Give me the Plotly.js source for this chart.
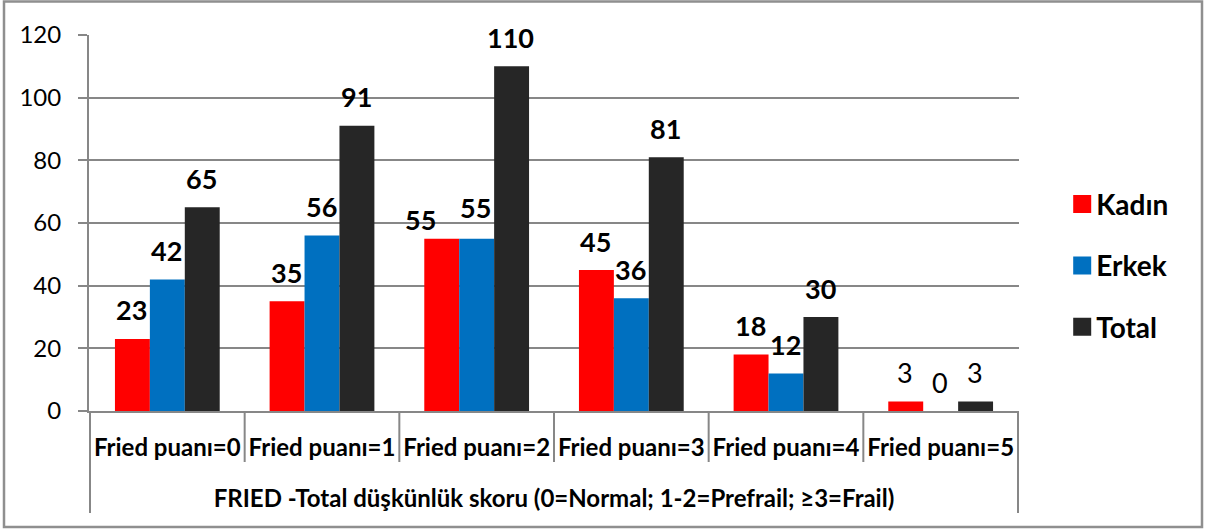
<!DOCTYPE html>
<html>
<head>
<meta charset="utf-8">
<script src="https://cdn.plot.ly/plotly-3.0.1.min.js"></script>
<style>
  html, body { margin: 0; padding: 0; background: #fff; }
  #chart { width: 1206px; height: 529px; }
</style>
</head>
<body>
<div id="chart"></div>
<script>
const categories = ['Fried puanı=0', 'Fried puanı=1', 'Fried puanı=2', 'Fried puanı=3', 'Fried puanı=4', 'Fried puanı=5'];
const seriesNames = ['Kadın', 'Erkek', 'Total'];
const kadin = [23, 35, 55, 45, 18, 3];
const erkek = [42, 56, 55, 36, 12, 0];
const total = [65, 91, 110, 81, 30, 3];
const yTicks = [0, 20, 40, 60, 80, 100, 120];
const axisTitle = 'FRIED -Total düşkünlük skoru (0=Normal; 1-2=Prefrail; ≥3=Frail)';

const series = [kadin, erkek, total];
const colors = ['#FF0000', '#0070C0', '#262626'];
const FONT = 'Lato, "Open Sans", sans-serif';
const GRID = '#878787';

// per-label manual nudges (Excel-style label placement)
const nudge = { '0-2': { dx: -20, dy: -10 }, '1-2': { dx: 0, dy: 2 } };

const traces = series.map((vals, i) => ({
  type: 'bar',
  name: seriesNames[i],
  x: categories,
  y: vals,
  legendgroup: 'g' + i,
  marker: { color: colors[i], line: { width: 0 } },
  hoverinfo: 'x+y+name'
}));

const annotations = [];
series.forEach((vals, i) => {
  vals.forEach((v, j) => {
    const n = nudge[i + '-' + j] || { dx: 0, dy: 0 };
    annotations.push({
      x: categories[j], y: v, xref: 'x', yref: 'y',
      text: String(v), showarrow: false,
      xanchor: 'center', yanchor: 'middle',
      xshift: (i - 1) * 35 - 1 + n.dx, yshift: 29 + n.dy,
      font: { family: FONT, size: 27, color: '#000', weight: j === 5 ? 'normal' : 'bold' }
    });
  });
});

const shapes = [];
// category separators
for (let k = 1; k < categories.length; k++) {
  shapes.push({ type: 'line', xref: 'x', yref: 'paper', x0: k - 0.5, x1: k - 0.5, y0: 0, y1: -51 / 376,
    line: { color: GRID, width: 2 } });
}
// outer separators
[-0.5, categories.length - 0.5].forEach(x => {
  shapes.push({ type: 'line', xref: 'x', yref: 'paper', x0: x, x1: x, y0: 0, y1: -102 / 376,
    line: { color: GRID, width: 2 } });
});
// chart border
shapes.push({ type: 'rect', xref: 'paper', yref: 'paper',
  x0: (4 - 89) / 930, x1: (1202 - 89) / 930, y0: (411 - 527) / 376, y1: (411 - 1.5) / 376,
  line: { color: '#8f8f8f', width: 2.5 }, fillcolor: 'rgba(0,0,0,0)' });

const layout = {
  width: 1206, height: 529,
  margin: { l: 89, r: 187, t: 35, b: 118 },
  paper_bgcolor: '#fff', plot_bgcolor: '#fff',
  barmode: 'group', bargap: 0.3226, bargroupgap: 0,
  showlegend: true,
  legend: {
    x: 1.04, xanchor: 'left', y: 0.386, yanchor: 'middle',
    font: { family: FONT, size: 28, color: '#000', weight: 'bold' },
    tracegroupgap: 22, bgcolor: 'rgba(0,0,0,0)'
  },
  xaxis: {
    type: 'category',
    showline: true, linecolor: GRID, linewidth: 2,
    showgrid: false, zeroline: false, ticks: '',
    tickfont: { family: FONT, size: 24, color: '#000', weight: 'bold' },
    ticklabelstandoff: 14,
    title: { text: axisTitle, font: { family: FONT, size: 24, color: '#000', weight: 'bold' }, standoff: 30 },
    automargin: false
  },
  yaxis: {
    range: [0, 120], tickvals: yTicks, ticktext: yTicks.map(String),
    showline: true, linecolor: GRID, linewidth: 2,
    showgrid: true, gridcolor: GRID, gridwidth: 2,
    zeroline: false,
    ticks: 'outside', ticklen: 9, tickwidth: 2, tickcolor: GRID,
    tickfont: { family: FONT, size: 24, color: '#000' },
    ticklabelstandoff: 12
  },
  annotations: annotations,
  shapes: shapes,
  font: { family: FONT }
};

Plotly.newPlot('chart', traces, layout, { displayModeBar: false, staticPlot: true }).then(() => {
  document.querySelectorAll('.legendpoints path').forEach(p => {
    p.setAttribute('d', 'M15,9H-3V-9H15Z');
  });
});
</script>
</body>
</html>
